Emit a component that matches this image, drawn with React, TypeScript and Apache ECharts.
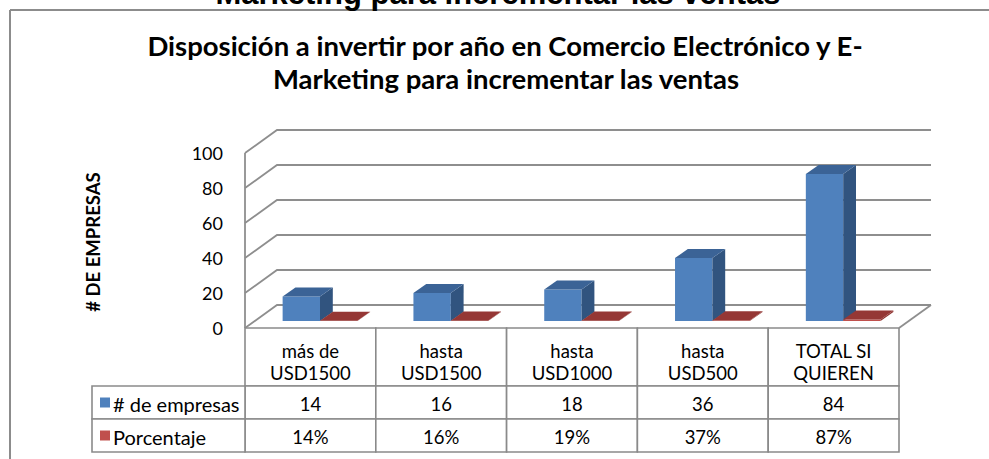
import React, { useEffect, useRef } from "react";
import * as echarts from "echarts";

const categories = ["más de\nUSD1500", "hasta\nUSD1500", "hasta\nUSD1000", "hasta\nUSD500", "TOTAL SI\nQUIEREN"];
const empresas = [14, 16, 18, 36, 84];
const porcentaje = [14, 16, 19, 37, 87];
const seriesNames = ["# de empresas", "Porcentaje"];
const yTicks = [0, 20, 40, 60, 80, 100];
const titleLines = ["Disposición a invertir por año en Comercio Electrónico y E-", "Marketing para incrementar las ventas"];
const cutTitle = "Marketing para incrementar las ventas";
const yAxisTitle = "# DE EMPRESAS";

const DX = 32;
const DY = -23;
const D0 = 0.3;
const D1 = 0.7;
const FONT = "Lato, 'Open Sans', sans-serif";
const GRID_COLOR = "#8e8e8e";
const TABLE_COLOR = "#8a8a8a";

const palettes = [
  { front: "#4F81BD", side: "#31547f", top: "#3b6396" },
  { front: "#C0504D", side: "#8f3532", top: "#953735" },
];

function makeBarRender(s: number) {
  const pal = palettes[s];
  return (params: any, api: any) => {
    const idx = api.value(0);
    const v = api.value(1);
    const base = api.coord([idx, 0]);
    const top = api.coord([idx, v]);
    const band = api.size([1, 0])[0];
    const w = band / 3.5;
    const x0 = base[0] - w + s * w;
    const x1 = x0 + w;
    const ax = DX * D0, ay = DY * D0, bx = DX * D1, by = DY * D1;
    const yb = base[1], yt = top[1];
    return {
      type: "group",
      children: [
        { type: "polygon", shape: { points: [[x0 + ax, yt + ay], [x1 + ax, yt + ay], [x1 + ax, yb + ay], [x0 + ax, yb + ay]] }, style: { fill: pal.front } },
        { type: "polygon", shape: { points: [[x1 + ax, yt + ay], [x1 + bx, yt + by], [x1 + bx, yb + by], [x1 + ax, yb + ay]] }, style: { fill: pal.side } },
        { type: "polygon", shape: { points: [[x0 + ax, yt + ay], [x1 + ax, yt + ay], [x1 + bx, yt + by], [x0 + bx, yt + by]] }, style: { fill: pal.top } },
      ],
    };
  };
}

function gridRender(params: any, api: any) {
  const cs = params.coordSys;
  const v = api.value(1);
  const y = api.coord([0, v])[1];
  const y0 = api.coord([0, 0])[1];
  const ls = { stroke: GRID_COLOR, lineWidth: 1.8 };
  const children: any[] = [
    { type: "polyline", shape: { points: [[cs.x, y], [cs.x + DX, y + DY], [cs.x + cs.width + DX, y + DY]] }, style: { ...ls, fill: null } },
  ];
  if (v === 0) {
    children.push({ type: "line", shape: { x1: cs.x + cs.width, y1: y0, x2: cs.x + cs.width + DX, y2: y0 + DY }, style: ls });
  }
  if (v === yTicks[yTicks.length - 1]) {
    children.push({ type: "line", shape: { x1: cs.x, y1: y, x2: cs.x, y2: y0 }, style: ls });
  }
  return { type: "group", children };
}

const H0 = 58;
const H1 = 33;
const H2 = 33;
const LEG_W = 153;

function tableRender(params: any, api: any) {
  const cs = params.coordSys;
  const idx = api.value(0);
  const band = api.size([1, 0])[0];
  const cx = api.coord([idx, 0])[0];
  const y0 = api.coord([idx, 0])[1];
  const xL = cx - band / 2;
  const cell = { stroke: TABLE_COLOR, lineWidth: 1.6, fill: "#fff" };
  const txt = (text: string, x: number, y: number, align = "center", size = 18.5) => ({
    type: "text",
    style: { text, x, y, align, verticalAlign: "middle", fontSize: size, fontFamily: FONT, fill: "#000", lineHeight: 22 },
  });
  const children: any[] = [
    { type: "rect", shape: { x: xL, y: y0, width: band, height: H0 }, style: cell },
    { type: "rect", shape: { x: xL, y: y0 + H0, width: band, height: H1 }, style: cell },
    { type: "rect", shape: { x: xL, y: y0 + H0 + H1, width: band, height: H2 }, style: cell },
    txt(categories[idx], cx, y0 + 34),
    txt(String(empresas[idx]), cx, y0 + H0 + H1 / 2 + 1),
    txt(porcentaje[idx] + "%", cx, y0 + H0 + H1 + H2 / 2 + 1),
  ];
  if (idx === 0) {
    const lx = cs.x - LEG_W;
    children.push(
      { type: "rect", shape: { x: lx, y: y0 + H0, width: LEG_W, height: H1 }, style: cell },
      { type: "rect", shape: { x: lx, y: y0 + H0 + H1, width: LEG_W, height: H2 }, style: cell },
      { type: "rect", shape: { x: lx + 8, y: y0 + H0 + H1 / 2 - 5, width: 10, height: 10 }, style: { fill: palettes[0].front } },
      { type: "rect", shape: { x: lx + 8, y: y0 + H0 + H1 + H2 / 2 - 5, width: 10, height: 10 }, style: { fill: palettes[1].front } },
      txt(seriesNames[0], lx + 21, y0 + H0 + H1 / 2 + 1, "left", 20),
      txt(seriesNames[1], lx + 21, y0 + H0 + H1 + H2 / 2 + 1, "left", 20),
    );
  }
  return { type: "group", children };
}

export default function App() {
  const ref = useRef<HTMLDivElement>(null);
  useEffect(() => {
    if (!ref.current) return;
    const chart = echarts.init(ref.current, undefined, { renderer: "svg" });
    chart.setOption({
      animation: false,
      backgroundColor: "#fff",
      grid: { left: 245, top: 153, width: 654, height: 175 },
      xAxis: { type: "category", data: categories, show: false },
      yAxis: {
        type: "value",
        min: 0,
        max: 100,
        interval: 20,
        axisLine: { show: false },
        axisTick: { show: false },
        splitLine: { show: false },
        axisLabel: { color: "#000", fontSize: 18, fontFamily: FONT, margin: 22 },
      },
      graphic: [
        { type: "line", shape: { x1: 10, y1: 10, x2: 989, y2: 10 }, style: { stroke: "#8c8c8c", lineWidth: 2 } },
        { type: "line", shape: { x1: 10, y1: 10, x2: 10, y2: 459 }, style: { stroke: "#8c8c8c", lineWidth: 2 } },
        { type: "text", x: 498, y: 9, style: { text: cutTitle, align: "center", verticalAlign: "bottom", font: "bold 31px 'Liberation Sans', Arial, sans-serif", fill: "#000" } },
        { type: "text", x: 505, y: 45, style: { text: titleLines[0], align: "center", verticalAlign: "middle", fontSize: 27.5, fontWeight: "bold", fontFamily: FONT, fill: "#000" } },
        { type: "text", x: 506, y: 78, style: { text: titleLines[1], align: "center", verticalAlign: "middle", fontSize: 27.5, fontWeight: "bold", fontFamily: FONT, fill: "#000" } },
        { type: "text", x: 93, y: 242, rotation: Math.PI / 2, style: { text: yAxisTitle, align: "center", verticalAlign: "middle", fontSize: 18.5, fontWeight: "bold", fontFamily: FONT, fill: "#000" } },
      ],
      series: [
        { type: "custom", name: "grid", renderItem: gridRender, data: yTicks.map((v) => [0, v]), silent: true, z: 1 },
        { type: "custom", name: seriesNames[0], renderItem: makeBarRender(0), data: empresas.map((v, i) => [i, v]), z: 2 },
        { type: "custom", name: seriesNames[1], renderItem: makeBarRender(1), data: porcentaje.map((v, i) => [i, v / 100]), z: 3 },
        { type: "custom", name: "table", renderItem: tableRender, data: categories.map((c, i) => [i, 0]), silent: true, z: 4 },
      ],
    });
    return () => chart.dispose();
  }, []);
  return <div ref={ref} style={{ position: "absolute", left: 0, top: 0, width: 989, height: 459 }} />;
}
